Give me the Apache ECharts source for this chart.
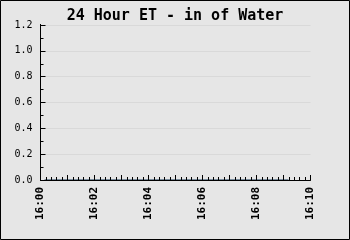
<!DOCTYPE html>
<html><head><meta charset="utf-8">
<script src="https://cdn.jsdelivr.net/npm/echarts@6/dist/echarts.min.js"></script>
<style>html,body{margin:0;padding:0;background:#e6e6e6}#c{width:350px;height:240px}</style>
</head><body><div id="c"></div>
<script>
var titleText = "24 Hour ET - in of Water";
// seconds after 16:00
var timesSec = [9, 69, 129, 189, 249, 309, 369, 429, 489, 551];
var etValues = [0, 0, 0, 0, 0, 0, 0, 0, 0, 0];
var yTicks = [0.0, 0.2, 0.4, 0.6, 0.8, 1.0, 1.2];
var xStartHour = 16;

function fmtTime(s) {
  var m = Math.round(s / 60);
  if (m % 2 !== 0) return '';
  var mm = m < 10 ? '0' + m : '' + m;
  return xStartHour + ':' + mm;
}

var chart = echarts.init(document.getElementById('c'), null, {renderer: 'canvas'});
chart.setOption({
  backgroundColor: '#e6e6e6',
  animation: false,
  title: {
    text: titleText, left: 'center', top: 4,
    textStyle: {fontFamily: 'DejaVu Sans Mono', fontSize: 15, fontWeight: 'bold', color: '#000'}
  },
  grid: {left: 40.5, right: 39.5, top: 25, bottom: 60, containLabel: false},
  xAxis: {
    type: 'value', min: 0, max: 600, interval: 60, z: 10,
    axisLine: {show: true, onZero: false, lineStyle: {color: '#000', width: 1}},
    axisTick: {show: true, inside: true, length: 5, lineStyle: {color: '#000', width: 1}},
    minorTick: {show: true, splitNumber: 5, length: 3, lineStyle: {color: '#000', width: 1}},
    splitLine: {show: false},
    axisLabel: {
      rotate: 90, margin: 7, color: '#000', fontFamily: 'DejaVu Sans Mono', fontWeight: 'bold', fontSize: 11,
      formatter: fmtTime, showMinLabel: true, showMaxLabel: true, hideOverlap: false
    }
  },
  yAxis: {
    type: 'value', min: yTicks[0], max: yTicks[yTicks.length - 1], interval: 0.2, z: 10,
    axisLine: {show: true, onZero: false, lineStyle: {color: '#000', width: 1}},
    axisTick: {show: true, inside: true, length: 5, lineStyle: {color: '#000', width: 1}},
    minorTick: {show: true, splitNumber: 2, length: 3, lineStyle: {color: '#000', width: 1}},
    splitLine: {show: true, lineStyle: {color: '#d9d9d9', width: 1}},
    axisLabel: {
      margin: 8, color: '#000', fontFamily: 'DejaVu Sans Mono', fontSize: 10,
      formatter: function (v) { return v.toFixed(1); }
    }
  },
  series: [{
    type: 'line', showSymbol: false, symbol: 'none',
    data: timesSec.map(function (t, i) { return [t, etValues[i]]; }),
    lineStyle: {color: '#7a8c9c', width: 2}, z: 1
  }],
  graphic: [{
    type: 'rect', shape: {x: 0.5, y: 0.5, width: 349, height: 239},
    style: {fill: null, stroke: '#000', lineWidth: 1}, z: 100
  }]
});

// left axis edge, positioned through the library's own scales
var pBottom = chart.convertToPixel({gridIndex: 0}, [0, yTicks[0]]);
var pTop = chart.convertToPixel({gridIndex: 0}, [0, yTicks[yTicks.length - 1]]);
var ax = Math.floor(pBottom[0]) + 0.5;
chart.setOption({
  graphic: [{
    type: 'rect', shape: {x: 0.5, y: 0.5, width: 349, height: 239},
    style: {fill: null, stroke: '#000', lineWidth: 1}, z: 100
  }, {
    type: 'line', shape: {x1: ax, y1: Math.floor(pTop[1]), x2: ax, y2: Math.ceil(pBottom[1])},
    style: {stroke: '#000', lineWidth: 1}, z: 100
  }]
});
</script></body></html>
